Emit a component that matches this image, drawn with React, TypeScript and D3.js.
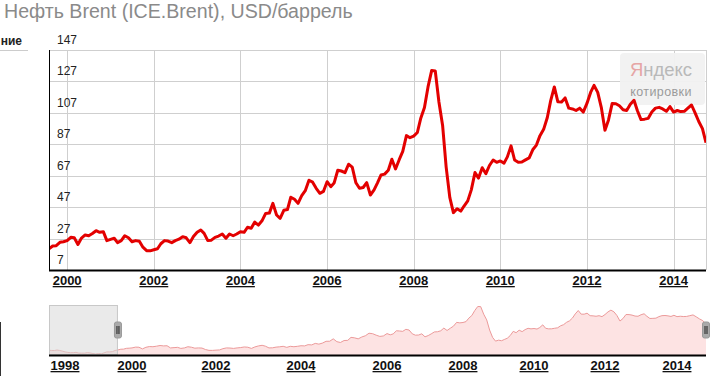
import React from "react";
import * as d3 from "d3";

const title = "Нефть Brent (ICE.Brent), USD/баррель";
const cutLabel = "ние";
const watermarkA = "Я";
const watermarkB = "ндекс";
const watermarkSub = "котировки";

// monthly Brent values, first value = July 1997
const seriesStart = "1997-07-01";
const mainStart = "1999-08-01";
const mainEnd = "2014-10-01";
const brent1997 = [19.6, 19.0, 18.9, 20.2, 19.1, 17.4];
const brent1998 = [15.3, 14.0, 13.2, 13.3, 14.2, 12.2, 12.1, 12.0, 13.4, 12.6, 11.0, 9.8];
const brent1999 = [11.1, 10.3, 12.5, 15.3, 15.3, 15.9, 19.0, 20.5, 22.3, 22.5, 24.6, 25.0];
const brent2000 = [25.7, 27.8, 27.5, 23.2, 27.3, 29.3, 28.8, 30.2, 32.0, 31.0, 31.4, 25.7];
const brent2001 = [26.5, 27.2, 24.4, 25.7, 28.8, 27.5, 25.0, 25.7, 25.3, 21.5, 19.3, 19.2];
const brent2002 = [19.9, 20.5, 23.7, 25.7, 25.4, 24.4, 25.7, 26.6, 28.2, 27.5, 24.4, 28.3];
const brent2003 = [31.0, 32.5, 30.3, 25.7, 26.0, 27.8, 28.6, 29.9, 27.2, 29.9, 28.8, 29.9];
const brent2004 = [31.4, 31.0, 34.2, 33.6, 37.5, 35.6, 38.3, 43.0, 43.2, 49.4, 42.0, 39.9];
const brent2005 = [45.0, 45.5, 53.3, 52.0, 49.4, 54.3, 57.5, 64.1, 62.9, 59.0, 55.8, 57.0];
const brent2006 = [63.2, 60.0, 62.3, 70.5, 70.0, 69.0, 74.3, 72.5, 62.5, 59.0, 59.5, 62.6];
const brent2007 = [54.7, 58.0, 62.3, 67.5, 68.0, 70.5, 77.5, 71.3, 77.2, 82.5, 92.5, 91.2];
const brent2008 = [92.2, 94.5, 103.6, 110.4, 123.5, 134.0, 133.7, 113.9, 99.0, 72.5, 53.0, 43.5];
const brent2009 = [46.0, 44.5, 47.7, 51.0, 58.0, 69.0, 65.5, 72.1, 68.3, 73.5, 77.0, 75.5];
const brent2010 = [76.4, 75.0, 79.0, 86.0, 77.0, 75.5, 75.7, 77.1, 78.3, 83.5, 86.5, 92.5];
const brent2011 = [96.5, 104.0, 114.6, 123.5, 114.0, 113.9, 116.5, 110.0, 109.5, 108.5, 110.0, 107.5];
const brent2012 = [113.0, 120.0, 124.5, 120.0, 110.5, 96.0, 102.5, 113.0, 112.8, 111.5, 109.0, 108.5];
const brent2013 = [112.5, 115.0, 108.5, 102.7, 103.0, 103.5, 107.5, 110.0, 110.5, 109.5, 108.0, 111.0];
const brent2014 = [107.5, 108.5, 107.8, 108.0, 110.0, 112.0, 107.0, 101.5, 97.0, 88.0];

const yTicks = [7, 27, 47, 67, 87, 107, 127, 147];
const mainYearTicks = [2000, 2002, 2004, 2006, 2008, 2010, 2012, 2014];
const navYearTicks = [1998, 2000, 2002, 2004, 2006, 2008, 2010, 2012, 2014];

const FONT = "'Liberation Sans', Arial, sans-serif";

export default function App() {
  const values = [
    ...brent1997, ...brent1998, ...brent1999, ...brent2000, ...brent2001, ...brent2002,
    ...brent2003, ...brent2004, ...brent2005, ...brent2006, ...brent2007, ...brent2008,
    ...brent2009, ...brent2010, ...brent2011, ...brent2012, ...brent2013, ...brent2014,
  ];
  const start = new Date(seriesStart + "T00:00:00");
  const data = values.map((v, i) => ({ date: d3.timeMonth.offset(start, i), value: v }));
  const mStart = new Date(mainStart + "T00:00:00");
  const mEnd = new Date(mainEnd + "T00:00:00");
  const mainData = data.filter((d) => d.date >= mStart);

  const L = 49, R = 706, T = 50, B = 270;
  const x = d3.scaleTime().domain([mStart, mEnd]).range([L, R]);
  const y = d3.scaleLinear().domain([7, 147]).range([B, T]);

  const line = d3.line<{ date: Date; value: number }>()
    .x((d) => x(d.date))
    .y((d) => y(d.value));

  // navigator
  const navB = 355, navT = 305;
  const yr = (n: number) => new Date(n, 0, 1);
  const xn = d3.scaleTime()
    .domain([start, ...navYearTicks.map(yr), mEnd])
    .range([49, 65, 132, 216, 301, 387, 463, 534, 605, 677, 706]);
  const ext = d3.extent(values) as [number, number];
  const yn = d3.scaleLinear().domain(ext).range([354, 306.5]);
  const navArea = d3.area<{ date: Date; value: number }>()
    .x((d) => xn(d.date)).y0(navB).y1((d) => yn(d.value));
  const navLine = d3.line<{ date: Date; value: number }>()
    .x((d) => xn(d.date)).y((d) => yn(d.value));
  const selX = xn(mStart);

  const handle = (cx: number) => (
    <g>
      <rect x={cx - 3.5} y={322} width={7} height={16} rx={2} fill="#aaa" stroke="#999" />
      <line x1={cx - 1} x2={cx - 1} y1={326} y2={334} stroke="#222" strokeWidth={1} />
      <line x1={cx + 1} x2={cx + 1} y1={326} y2={334} stroke="#222" strokeWidth={1} />
    </g>
  );

  return (
    <svg width={713} height={376} style={{ position: "absolute", left: 0, top: 0, background: "#fff" }} fontFamily={FONT}>
      <defs>
        <clipPath id="plotClip">
          <rect x={L} y={T} width={R - L} height={B - T} />
        </clipPath>
      </defs>
      <text x={4} y={17.5} fontSize={19.6} fill="#8a8a8a">{title}</text>

      <text x={22} y={45} fontSize={12} fontWeight="bold" fill="#222" textAnchor="end">{cutLabel}</text>
      <line x1={0} x2={28} y1={50.5} y2={50.5} stroke="#ccc" />
      <line x1={0.5} x2={0.5} y1={322} y2={376} stroke="#333" />

      {/* grid */}
      {yTicks.map((t) => (
        <line key={"gy" + t} x1={L} x2={R} y1={Math.round(y(t)) + 0.5} y2={Math.round(y(t)) + 0.5} stroke="#cfcfcf" />
      ))}
      {mainYearTicks.map((t) => (
        <line key={"gx" + t} x1={Math.round(x(yr(t))) + 0.5} x2={Math.round(x(yr(t))) + 0.5} y1={T} y2={B} stroke="#cfcfcf" />
      ))}
      <line x1={R + 0.5} x2={R + 0.5} y1={T} y2={B} stroke="#cfcfcf" />

      {/* watermark */}
      <rect x={620} y={53} width={85} height={52} rx={4} fill="#f1f1f1" opacity={0.95} />
      <text x={661} y={76} fontSize={18.5} textAnchor="middle" fill="#b9b9b9">
        <tspan fill="#e6a5a5">{watermarkA}</tspan>{watermarkB}
      </text>
      <text x={661} y={96} fontSize={12.5} textAnchor="middle" fill="#9a9a9a" letterSpacing={0.4}>{watermarkSub}</text>

      {yTicks.map((t) => (
        <text key={"ty" + t} x={57} y={y(t) - 6} fontSize={12} fill="#222">{t}</text>
      ))}

      <path d={line(mainData) || ""} fill="none" stroke="#e30000" strokeWidth={3} strokeLinejoin="round" clipPath="url(#plotClip)" />

      <line x1={L + 0.5} x2={L + 0.5} y1={T} y2={B} stroke="#000" />
      <line x1={L} x2={R} y1={B + 0.5} y2={B + 0.5} stroke="#000" strokeWidth={2} />

      {mainYearTicks.map((t) => (
        <text key={"tx" + t} x={x(yr(t))} y={285} fontSize={13} fontWeight="bold" textAnchor="middle" fill="#111" textDecoration="underline">{t}</text>
      ))}

      {/* navigator */}
      <path d={navArea(data) || ""} fill="#fde3e3" />
      <path d={navLine(data) || ""} fill="none" stroke="#ec9a9a" strokeWidth={1} />
      <rect x={L + 0.5} y={navT + 0.5} width={selX - L - 1} height={navB - navT - 1} fill="#d8d8d8" fillOpacity={0.55} stroke="#c8c8c8" />
      <line x1={L} x2={R} y1={navB + 0.5} y2={navB + 0.5} stroke="#000" strokeWidth={2} />
      {handle(selX)}
      {handle(R)}
      {navYearTicks.map((t) => (
        <text key={"nx" + t} x={xn(yr(t))} y={370} fontSize={13} fontWeight="bold" textAnchor="middle" fill="#111" textDecoration="underline">{t}</text>
      ))}
    </svg>
  );
}
